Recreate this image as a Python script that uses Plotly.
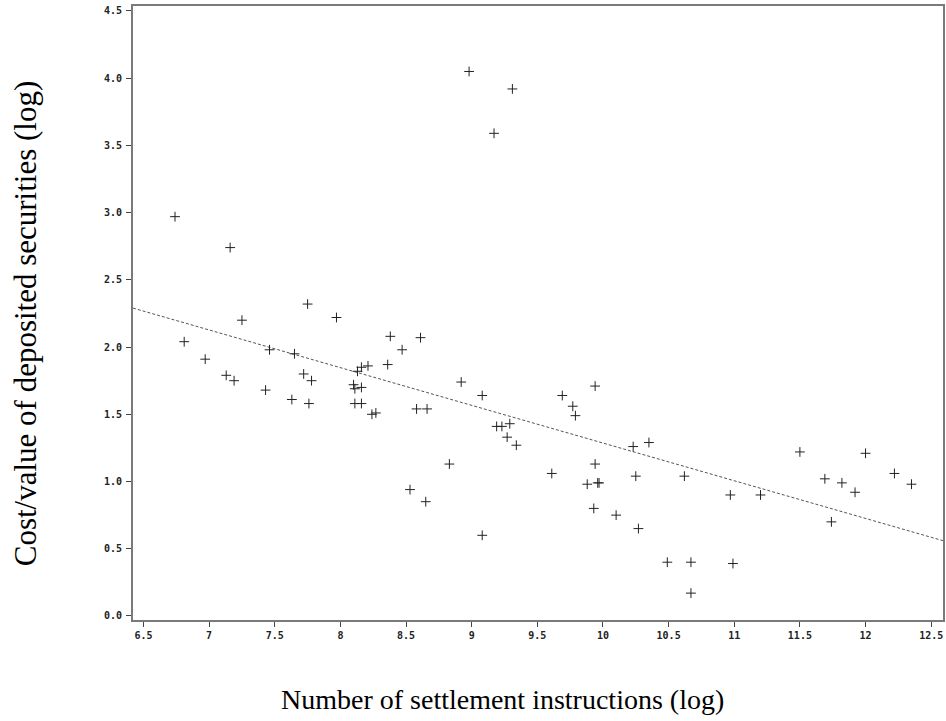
"""
Scatter of depository cost/value against settlement volume (both log),
with the fitted regression line drawn dashed across the full x range.
"""

import plotly.graph_objects as go

# ---------------------------------------------------------------------------
# Data
# ---------------------------------------------------------------------------

instructions_log = [
    6.74, 7.16, 6.81, 6.97, 7.13, 7.19, 7.25, 7.46, 7.43, 7.65,
    7.63, 7.72, 7.75, 7.78, 7.76, 7.97, 8.38, 8.61, 8.47, 8.36,
    8.21, 8.16, 8.13, 8.10, 8.11, 8.16, 8.11, 8.16, 8.24, 8.27,
    8.58, 8.66, 8.92, 9.08, 9.19, 9.23, 9.29, 9.27, 9.69, 9.77,
    9.79, 9.94, 9.34, 8.83, 8.53, 8.65, 9.08, 9.61, 9.94, 9.88,
    9.96, 9.97, 9.93, 10.10, 10.23, 10.35, 10.25, 10.27, 10.49, 10.67,
    10.67, 10.62, 10.97, 10.99, 11.20, 11.50, 11.69, 11.74, 11.82, 11.92,
    12.00, 12.22, 12.35, 8.98, 9.31, 9.17,
]

cost_value_log = [
    2.97, 2.74, 2.04, 1.91, 1.79, 1.75, 2.20, 1.98, 1.68, 1.95,
    1.61, 1.80, 2.32, 1.75, 1.58, 2.22, 2.08, 2.07, 1.98, 1.87,
    1.86, 1.85, 1.82, 1.72, 1.69, 1.70, 1.58, 1.58, 1.50, 1.51,
    1.54, 1.54, 1.74, 1.64, 1.41, 1.41, 1.43, 1.33, 1.64, 1.56,
    1.49, 1.71, 1.27, 1.13, 0.94, 0.85, 0.60, 1.06, 1.13, 0.98,
    0.99, 0.99, 0.80, 0.75, 1.26, 1.29, 1.04, 0.65, 0.40, 0.40,
    0.17, 1.04, 0.90, 0.39, 0.90, 1.22, 1.02, 0.70, 0.99, 0.92,
    1.21, 1.06, 0.98, 4.05, 3.92, 3.59,
]

# fitted line, evaluated at the two ends of the x axis
fit_x = [6.42, 12.59]
fit_y = [2.29, 0.56]

x_ticks = [6.5, 7, 7.5, 8, 8.5, 9, 9.5, 10, 10.5, 11, 11.5, 12, 12.5]
x_tick_labels = ["6.5", "7", "7.5", "8", "8.5", "9", "9.5", "10",
                 "10.5", "11", "11.5", "12", "12.5"]
y_ticks = [0, 0.5, 1, 1.5, 2, 2.5, 3, 3.5, 4, 4.5]
y_tick_labels = ["0.0", "0.5", "1.0", "1.5", "2.0", "2.5", "3.0",
                 "3.5", "4.0", "4.5"]

# ---------------------------------------------------------------------------
# Figure
# ---------------------------------------------------------------------------

TICK_FONT = dict(family="DejaVu Sans Mono", size=10, color="#222", weight="bold")
TITLE_FONT_FAMILY = "Liberation Serif, Times New Roman, serif"

fig = go.Figure()

fig.add_trace(go.Scatter(
    x=fit_x, y=fit_y, mode="lines",
    line=dict(color="#555", width=1, dash="3px,2px"),
    showlegend=False, hoverinfo="skip",
))

fig.add_trace(go.Scatter(
    x=instructions_log, y=cost_value_log, mode="markers",
    marker=dict(symbol="cross-thin", size=7,
                line=dict(color="#222", width=1)),
    showlegend=False,
))

axis_common = dict(
    showgrid=False, zeroline=False,
    showline=True, linecolor="#7a7a7a", linewidth=2, mirror=True,
    ticks="outside", ticklen=5, tickwidth=1, tickcolor="#444",
    tickfont=TICK_FONT,
)

fig.update_xaxes(
    range=[6.42, 12.59], tickvals=x_ticks, ticktext=x_tick_labels,
    **axis_common,
)
fig.update_yaxes(
    range=[-0.03, 4.537], tickvals=y_ticks, ticktext=y_tick_labels,
    ticklabelstandoff=2, **axis_common,
)

# Axis titles as annotations so they sit where the original puts them
fig.add_annotation(
    text="Number of settlement instructions (log)",
    xref="paper", yref="paper", x=0.4557, y=-0.13,
    xanchor="center", yanchor="middle", showarrow=False,
    font=dict(family=TITLE_FONT_FAMILY, size=28, color="black"),
)
fig.add_annotation(
    text="Cost/value of deposited securities (log)",
    xref="paper", yref="paper", x=-0.133, y=0.4837,
    xanchor="center", yanchor="middle", showarrow=False, textangle=-90,
    font=dict(family=TITLE_FONT_FAMILY, size=31, color="black"),
)

fig.update_layout(
    width=946, height=721,
    margin=dict(l=133, r=1, t=6, b=101),
    plot_bgcolor="white", paper_bgcolor="white",
)

# drop the browser's default body margin so the figure sits at the page corner
fig.write_html(
    "out.html",
    config={"displayModeBar": False},
    post_script="document.body.style.margin='0';document.body.style.overflow='hidden';",
)
